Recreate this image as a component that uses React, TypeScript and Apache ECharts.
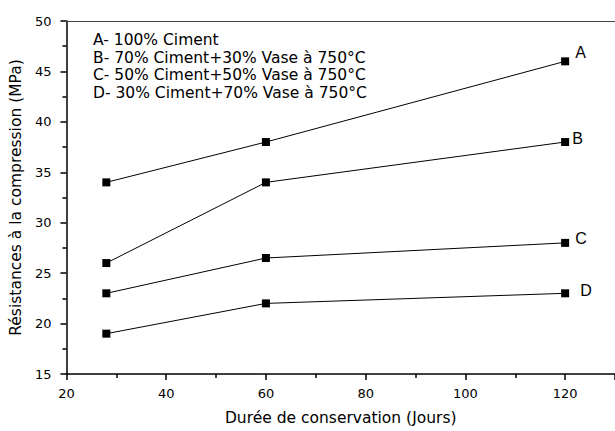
import React, { useEffect, useRef } from "react";
import * as echarts from "echarts";

const days = [28, 60, 120];
const seriesNames = ["A", "B", "C", "D"];
const valuesA = [34, 38, 46];
const valuesB = [26, 34, 38];
const valuesC = [23, 26.5, 28];
const valuesD = [19, 22, 23];
const legendLines = [
  "A- 100% Ciment",
  "B- 70% Ciment+30% Vase à 750°C",
  "C- 50% Ciment+50% Vase à 750°C",
  "D- 30% Ciment+70% Vase à 750°C",
];
const xTitle = "Durée de conservation (Jours)";
const yTitle = "Résistances à la compression (MPa)";

export default function App() {
  const ref = useRef<HTMLDivElement>(null);
  useEffect(() => {
    document.body.style.margin = "0";
    const chart = echarts.init(ref.current!, null, { renderer: "svg" });
    const all = [valuesA, valuesB, valuesC, valuesD];
    const wide = "DejaVu Sans, Verdana, sans-serif";
    const arial = "Liberation Sans, Arial, sans-serif";
    const labelOffsets = [
      [0, -9],
      [-3, -4],
      [0, -4],
      [5, -3],
    ];
    chart.setOption({
      animation: false,
      grid: { left: 66, right: -3, top: 21, bottom: 52 },
      xAxis: [
        {
          type: "value",
          min: 20,
          max: 130,
          interval: 20,
          position: "bottom",
          name: xTitle,
          nameLocation: "middle",
          nameGap: 36,
          nameTextStyle: { fontFamily: wide, fontSize: 15.5, color: "#000" },
          axisLine: { lineStyle: { color: "#000", width: 1.5 } },
          axisTick: { inside: false, length: 6, lineStyle: { color: "#000", width: 1.5 } },
          minorTick: { show: true, splitNumber: 2, length: 4, lineStyle: { color: "#000", width: 1.5 } },
          splitLine: { show: false },
          axisLabel: {
            fontFamily: wide,
            fontSize: 13,
            color: "#000",
            margin: 13,
            showMaxLabel: false,
            formatter: (v: number) => (v > 120 ? "" : String(v)),
          },
        },
        {
          type: "value",
          min: 20,
          max: 130,
          position: "top",
          axisLine: { show: true, onZero: false, lineStyle: { color: "#444", width: 1 } },
          axisTick: { show: false },
          axisLabel: { show: false },
          splitLine: { show: false },
        },
      ],
      yAxis: {
        type: "value",
        min: 15,
        max: 50,
        interval: 5,
        name: yTitle,
        nameLocation: "middle",
        nameGap: 40,
        nameTextStyle: { fontFamily: wide, fontSize: 15.5, color: "#000" },
        axisLine: { show: true, lineStyle: { color: "#000", width: 1.5 } },
        axisTick: { show: true, length: 6, lineStyle: { color: "#000", width: 1.5 } },
        minorTick: { show: true, splitNumber: 2, length: 4, lineStyle: { color: "#000", width: 1.5 } },
        splitLine: { show: false },
        axisLabel: { fontFamily: wide, fontSize: 13, color: "#000", margin: 15 },
      },
      series: all.map((vals, i) => ({
        type: "line",
        name: seriesNames[i],
        data: days.map((d, j) => [d, vals[j]]),
        symbol: "rect",
        symbolSize: 8,
        itemStyle: { color: "#000" },
        lineStyle: { color: "#000", width: 1 },
        label: {
          show: true,
          position: "right",
          distance: 6,
          offset: labelOffsets[i],
          fontFamily: arial,
          fontSize: 16,
          color: "#000",
          formatter: (p: any) => (p.dataIndex === days.length - 1 ? seriesNames[i] : ""),
        },
      })),
      graphic: legendLines.map((t, i) => ({
        type: "text",
        left: 93,
        top: 32 + i * 17.7,
        style: { text: t, fontFamily: wide, fontSize: 15.5, fill: "#000" },
      })),
    });
    return () => chart.dispose();
  }, []);
  return <div ref={ref} style={{ width: 615, height: 431 }} />;
}
